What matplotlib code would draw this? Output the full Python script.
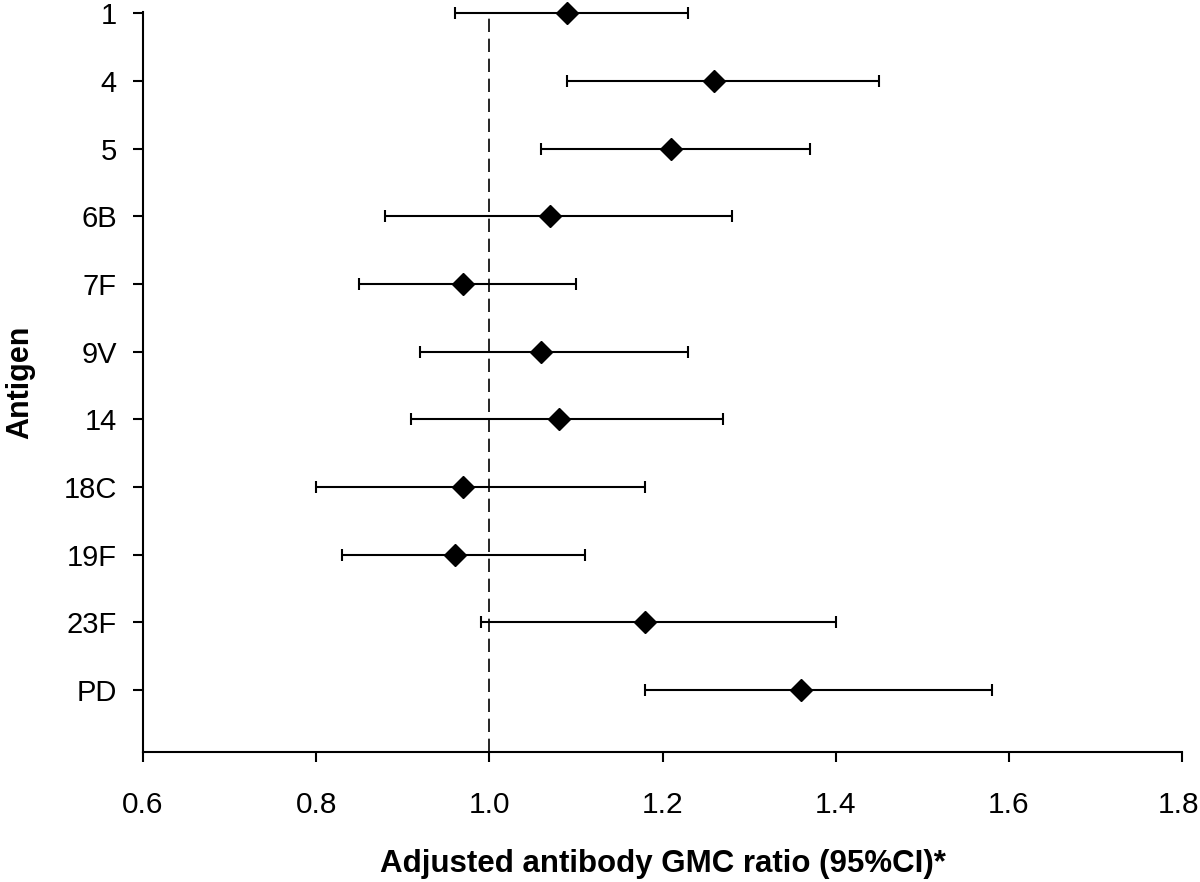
import matplotlib
matplotlib.use("Agg")
import matplotlib.pyplot as plt
import matplotlib.transforms as mtransforms
import numpy as np

antigens = ["1", "4", "5", "6B", "7F", "9V", "14", "18C", "19F", "23F", "PD"]
ratio = [1.09, 1.26, 1.21, 1.07, 0.97, 1.06, 1.08, 0.97, 0.96, 1.18, 1.36]
ci_low = [0.96, 1.09, 1.06, 0.88, 0.85, 0.92, 0.91, 0.80, 0.83, 0.99, 1.18]
ci_high = [1.23, 1.45, 1.37, 1.28, 1.10, 1.23, 1.27, 1.18, 1.11, 1.40, 1.58]
x_ticks = [0.6, 0.8, 1.0, 1.2, 1.4, 1.6, 1.8]

plt.rcParams["font.family"] = ["Liberation Sans", "DejaVu Sans"]

fig = plt.figure(figsize=(12, 8.82), dpi=100)
ax = fig.add_axes([0.1192, 0.1474, 0.8658, 0.839])

y = np.arange(len(antigens))
ratio = np.array(ratio)
err = [ratio - np.array(ci_low), np.array(ci_high) - ratio]

ax.axvline(1.0, color="black", lw=1.2, linestyle=(0, (8, 4)), zorder=1)
ax.errorbar(ratio, y, xerr=err, fmt="D", color="black", ms=11,
            ecolor="black", elinewidth=1.5, capsize=4.6, capthick=1.5,
            clip_on=False, zorder=3)

ax.set_xlim(0.6, 1.8)
ax.set_ylim(len(antigens) - 1 + 0.915, -0.02)
ax.set_xticks(x_ticks)
ax.set_xticklabels([f"{v:.1f}" for v in x_ticks])
ax.set_yticks(y)
ax.set_yticklabels(antigens)

for side in ["top", "right"]:
    ax.spines[side].set_visible(False)
for side in ["left", "bottom"]:
    ax.spines[side].set_linewidth(1.5)

ax.tick_params(axis="x", direction="out", length=7, width=1.5, pad=21, labelsize=21.5)
ax.tick_params(axis="y", direction="out", length=7, width=1.5, pad=12, labelsize=21)

# last tick label sits right at the figure edge; pull it in a little
last = ax.get_xticklabels()[-1]
last.set_transform(last.get_transform() + mtransforms.ScaledTranslation(-4 / 100, 0, fig.dpi_scale_trans))

ax.set_xlabel("Adjusted antibody GMC ratio (95%CI)*", fontsize=22.5, fontweight="bold", labelpad=22)
ax.set_ylabel("Antigen", fontsize=22, fontweight="bold", labelpad=20)

fig.savefig("out.png", dpi=100)
